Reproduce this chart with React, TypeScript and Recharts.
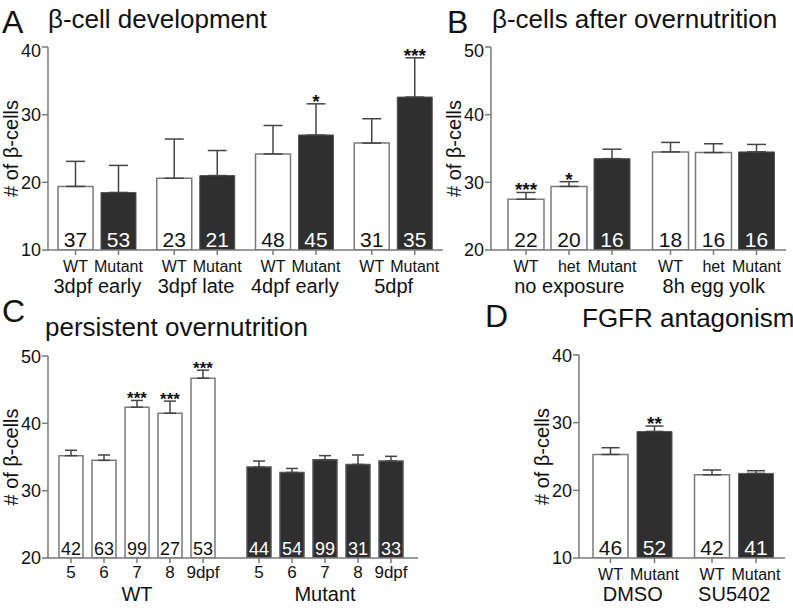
import { BarChart, Bar, XAxis, YAxis, ErrorBar, LabelList, Cell } from "recharts";

const FONT = "'Liberation Sans', Arial, Helvetica, sans-serif";
const AXIS = "#7a7a7a";
const DARK = "#2f2f2f";
const ERR = "#444";

// A: beta-cell development
const devStages = ["3dpf early", "3dpf late", "4dpf early", "5dpf"];
const devWT = [19.4, 20.6, 24.2, 25.8];
const devWTErr = [3.7, 5.8, 4.2, 3.6];
const devWTn = [37, 23, 48, 31];
const devMut = [18.5, 21.0, 27.0, 32.6];
const devMutErr = [4.0, 3.7, 4.6, 5.8];
const devMutN = [53, 21, 45, 35];
const devMutStars = ["", "", "*", "***"];
const devTicks = [10, 20, 30, 40];

// B: after overnutrition
const ovGroups = ["no exposure", "8h egg yolk"];
const ovWT = [27.5, 34.5];
const ovWTErr = [1.0, 1.4];
const ovWTn = [22, 18];
const ovWTStars = ["***", ""];
const ovHet = [29.4, 34.4];
const ovHetErr = [0.7, 1.3];
const ovHetN = [20, 16];
const ovHetStars = ["*", ""];
const ovMut = [33.5, 34.5];
const ovMutErr = [1.4, 1.1];
const ovMutN = [16, 16];
const ovTicks = [20, 30, 40, 50];

// C: persistent overnutrition
const perGroups = ["WT", "Mutant"];
const perDays = ["5", "6", "7", "8", "9dpf"];
const perWT = [35.2, 34.5, 42.4, 41.5, 46.7];
const perWTErr = [0.8, 0.8, 1.0, 1.8, 1.2];
const perWTn = [42, 63, 99, 27, 53];
const perWTStars = ["", "", "***", "***", "***"];
const perMut = [33.5, 32.7, 34.6, 33.9, 34.4];
const perMutErr = [0.9, 0.6, 0.6, 1.4, 0.7];
const perMutN = [44, 54, 99, 31, 33];
const perTicks = [20, 30, 40, 50];

// D: FGFR antagonism
const fgGroups = ["DMSO", "SU5402"];
const fgWT = [25.3, 22.3];
const fgWTErr = [1.0, 0.7];
const fgWTn = [46, 42];
const fgMut = [28.7, 22.5];
const fgMutErr = [0.8, 0.4];
const fgMutN = [52, 41];
const fgMutStars = ["**", ""];
const fgTicks = [10, 20, 30, 40];

type Foot = {
  sub: string;
  counts: number[];
  errs: number[];
  stars?: string[];
  dark: (i: number) => boolean;
  min: number;
  nSize: number;
  subSize: number;
  subDy: number;
  starSize?: number;
};

// count inside the bar, tick + label under it, stars over the error cap
function footer(o: Foot) {
  return (p: any) => {
    const x = Number(p.x);
    const y = Number(p.y);
    const w = Number(p.width);
    const h = Number(p.height);
    const i = p.index as number;
    const v = Number(p.value);
    const cx = x + w / 2;
    const base = y + h;
    const ppu = h / (v - o.min);
    const star = o.stars ? o.stars[i] : "";
    const errTop = y - o.errs[i] * ppu;
    return (
      <g fontFamily={FONT}>
        <text x={cx} y={base - 3} textAnchor="middle" fontSize={o.nSize} fill={o.dark(i) ? "#fff" : "#111"}>
          {o.counts[i]}
        </text>
        <line x1={cx} x2={cx} y1={base} y2={base + 5} stroke={AXIS} strokeWidth={1.5} />
        <text x={cx} y={base + o.subDy} textAnchor="middle" fontSize={o.subSize} fill="#111">
          {o.sub}
        </text>
        {star ? (
          <text x={cx} y={errTop + 4} textAnchor="middle" fontSize={o.starSize ?? 19} fontWeight="bold" fill="#111">
            {star}
          </text>
        ) : null}
      </g>
    );
  };
}

const groupTick = (size: number, dy: number) => (p: any) => (
  <text x={p.x} y={p.y + dy} textAnchor="middle" fontSize={size} fontFamily={FONT} fill="#111">
    {p.payload.value}
  </text>
);

const yLabel = (p: any) => {
  const vb = p.viewBox;
  const cx = vb.x + 18;
  const cy = vb.y + vb.height / 2;
  return (
    <text x={cx} y={cy} transform={`rotate(-90 ${cx} ${cy})`} textAnchor="middle" fontSize={20} fontFamily={FONT} fill="#111">
      # of β-cells
    </text>
  );
};

function yAxis(domain: number[], ticks: number[]) {
  return (
    <YAxis
      type="number"
      domain={domain}
      ticks={ticks}
      width={48}
      tickSize={6}
      tickMargin={1}
      axisLine={{ stroke: AXIS, strokeWidth: 1.5 }}
      tickLine={{ stroke: AXIS, strokeWidth: 1.5 }}
      tick={{ fontSize: 18, fill: "#111", fontFamily: FONT }}
      label={yLabel}
      allowDataOverflow
    />
  );
}

const whiteBar = { fill: "#fff", stroke: AXIS, strokeWidth: 1.5 };
const darkBar = { fill: DARK, stroke: "#555", strokeWidth: 1 };

function PanelA() {
  const data = devStages.map((s, i) => ({
    stage: s,
    wt: devWT[i],
    wtE: [0, devWTErr[i]],
    mut: devMut[i],
    mutE: [0, devMutErr[i]],
  }));
  const common = { min: 10, nSize: 21, subSize: 16, subDy: 22 };
  return (
    <BarChart width={450} height={262} data={data} margin={{ top: 7, right: 7, left: 0, bottom: 0 }} barSize={35} barGap={8}>
      <XAxis dataKey="stage" height={52} tickSize={0} tickMargin={0} axisLine={{ stroke: AXIS, strokeWidth: 1.5 }} tickLine={false} tick={groupTick(20, 43)} interval={0} />
      {yAxis([10, 40], devTicks)}
      <Bar dataKey="wt" {...whiteBar} isAnimationActive={false}>
        <ErrorBar dataKey="wtE" width={9.5} stroke={ERR} strokeWidth={1.5} direction="y" isAnimationActive={false} />
        <LabelList dataKey="wt" content={footer({ ...common, sub: "WT", counts: devWTn, errs: devWTErr, dark: () => false })} />
      </Bar>
      <Bar dataKey="mut" {...darkBar} isAnimationActive={false}>
        <ErrorBar dataKey="mutE" width={9.5} stroke={ERR} strokeWidth={1.5} direction="y" isAnimationActive={false} />
        <LabelList dataKey="mut" content={footer({ ...common, sub: "Mutant", counts: devMutN, errs: devMutErr, stars: devMutStars, dark: () => true })} />
      </Bar>
    </BarChart>
  );
}

function PanelB() {
  const data = ovGroups.map((g, i) => ({
    g,
    wt: ovWT[i],
    wtE: [0, ovWTErr[i]],
    het: ovHet[i],
    hetE: [0, ovHetErr[i]],
    mut: ovMut[i],
    mutE: [0, ovMutErr[i]],
  }));
  const common = { min: 20, nSize: 21, subSize: 16, subDy: 22 };
  return (
    <BarChart width={348} height={262} data={data} margin={{ top: 7, right: 5, left: 0, bottom: 0 }} barSize={36} barGap={7}>
      <XAxis dataKey="g" height={52} padding={{ left: 6, right: 0 }} tickSize={0} tickMargin={0} axisLine={{ stroke: AXIS, strokeWidth: 1.5 }} tickLine={false} tick={groupTick(20, 43)} interval={0} />
      {yAxis([20, 50], ovTicks)}
      <Bar dataKey="wt" {...whiteBar} isAnimationActive={false}>
        <ErrorBar dataKey="wtE" width={9.5} stroke={ERR} strokeWidth={1.5} direction="y" isAnimationActive={false} />
        <LabelList dataKey="wt" content={footer({ ...common, sub: "WT", counts: ovWTn, errs: ovWTErr, stars: ovWTStars, dark: () => false })} />
      </Bar>
      <Bar dataKey="het" {...whiteBar} isAnimationActive={false}>
        <ErrorBar dataKey="hetE" width={9.5} stroke={ERR} strokeWidth={1.5} direction="y" isAnimationActive={false} />
        <LabelList dataKey="het" content={footer({ ...common, sub: "het", counts: ovHetN, errs: ovHetErr, stars: ovHetStars, dark: () => false })} />
      </Bar>
      <Bar dataKey="mut" {...darkBar} isAnimationActive={false}>
        <ErrorBar dataKey="mutE" width={9.5} stroke={ERR} strokeWidth={1.5} direction="y" isAnimationActive={false} />
        <LabelList dataKey="mut" content={footer({ ...common, sub: "Mutant", counts: ovMutN, errs: ovMutErr, dark: () => true })} />
      </Bar>
    </BarChart>
  );
}

function PanelC() {
  const vals = [perWT, perMut];
  const errs = [perWTErr, perMutErr];
  const data = perGroups.map((g, gi) => {
    const row: Record<string, any> = { g };
    perDays.forEach((_, k) => {
      row["v" + k] = vals[gi][k];
      row["e" + k] = [0, errs[gi][k]];
    });
    return row;
  });
  return (
    <BarChart width={425} height={262} data={data} margin={{ top: 10, right: 7, left: 0, bottom: 0 }} barSize={24} barGap={9}>
      <XAxis dataKey="g" height={50} padding={{ left: -5, right: -1 }} tickSize={0} tickMargin={0} axisLine={{ stroke: AXIS, strokeWidth: 1.5 }} tickLine={false} tick={groupTick(20, 43)} interval={0} />
      {yAxis([20, 50], perTicks)}
      {perDays.map((d, k) => (
        <Bar key={d} dataKey={"v" + k} {...whiteBar} isAnimationActive={false}>
          {perGroups.map((g, gi) => (
            <Cell key={g} fill={gi === 1 ? DARK : "#fff"} stroke={gi === 1 ? "#555" : AXIS} />
          ))}
          <ErrorBar dataKey={"e" + k} width={6} stroke={ERR} strokeWidth={1.5} direction="y" isAnimationActive={false} />
          <LabelList
            dataKey={"v" + k}
            content={footer({
              sub: d,
              counts: [perWTn[k], perMutN[k]],
              errs: [perWTErr[k], perMutErr[k]],
              stars: [perWTStars[k], ""],
              dark: (i) => i === 1,
              min: 20,
              nSize: 18,
              subSize: 17,
              subDy: 20,
              starSize: 17,
            })}
          />
        </Bar>
      ))}
    </BarChart>
  );
}

function PanelD() {
  const data = fgGroups.map((g, i) => ({
    g,
    wt: fgWT[i],
    wtE: [0, fgWTErr[i]],
    mut: fgMut[i],
    mutE: [0, fgMutErr[i]],
  }));
  const common = { min: 10, nSize: 21, subSize: 16, subDy: 22 };
  return (
    <BarChart width={259} height={263} data={data} margin={{ top: 10, right: 5, left: 0, bottom: 0 }} barSize={35} barGap={9}>
      <XAxis dataKey="g" height={50} padding={{ left: 3, right: 0 }} tickSize={0} tickMargin={0} axisLine={{ stroke: AXIS, strokeWidth: 1.5 }} tickLine={false} tick={groupTick(20, 43)} interval={0} />
      {yAxis([10, 40], fgTicks)}
      <Bar dataKey="wt" {...whiteBar} isAnimationActive={false}>
        <ErrorBar dataKey="wtE" width={9} stroke={ERR} strokeWidth={1.5} direction="y" isAnimationActive={false} />
        <LabelList dataKey="wt" content={footer({ ...common, sub: "WT", counts: fgWTn, errs: fgWTErr, dark: () => false })} />
      </Bar>
      <Bar dataKey="mut" {...darkBar} isAnimationActive={false}>
        <ErrorBar dataKey="mutE" width={9} stroke={ERR} strokeWidth={1.5} direction="y" isAnimationActive={false} />
        <LabelList dataKey="mut" content={footer({ ...common, sub: "Mutant", counts: fgMutN, errs: fgMutErr, stars: fgMutStars, dark: () => true })} />
      </Bar>
    </BarChart>
  );
}

const abs = (left: number, top: number): React.CSSProperties => ({ position: "absolute", left, top });

export default function App() {
  return (
    <div style={{ position: "absolute", left: 0, top: 0, width: 793, height: 608, background: "#fff", fontFamily: FONT, overflow: "hidden" }}>
      <div style={abs(0, 40)}>
        <PanelA />
      </div>
      <div style={abs(443, 40)}>
        <PanelB />
      </div>
      <div style={abs(0, 346)}>
        <PanelC />
      </div>
      <div style={abs(531, 345)}>
        <PanelD />
      </div>
      <svg width={793} height={608} style={{ position: "absolute", left: 0, top: 0, pointerEvents: "none" }} fontFamily={FONT} fill="#111">
        <text x={2} y={33} fontSize={32}>A</text>
        <text x={48} y={28} fontSize={26}>β-cell development</text>
        <text x={447} y={33} fontSize={32}>B</text>
        <text x={492} y={28} fontSize={26}>β-cells after overnutrition</text>
        <text x={2} y={322} fontSize={32}>C</text>
        <text x={45} y={336} fontSize={26}>persistent overnutrition</text>
        <text x={485} y={327} fontSize={32}>D</text>
        <text x={582} y={327} fontSize={26}>FGFR antagonism</text>
      </svg>
    </div>
  );
}
